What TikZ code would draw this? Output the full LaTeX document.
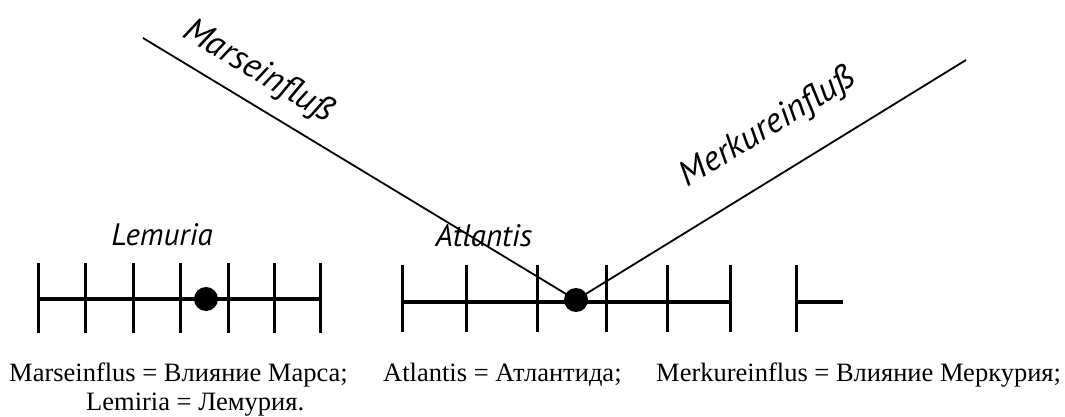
\documentclass[tikz,border=0pt]{standalone}
\usepackage{fontspec}
\setmainfont{Liberation Serif}
\newfontfamily\handfont{PT Sans}
\usetikzlibrary{positioning}

\begin{document}
\begin{tikzpicture}[x=1pt,y=-1pt,
  ax/.style={line width=3.4pt},
  tk/.style={line width=3pt},
  ln/.style={line width=1.8pt},
  pt/.style={circle,fill=black,inner sep=0pt,minimum size=24pt},
  hw/.style={font=\handfont\itshape\fontsize{31}{34}\selectfont,inner sep=0pt},
  cp/.style={font=\fontsize{26.5}{30}\selectfont,inner sep=0pt,anchor=base west}]
  \useasboundingbox (0,0) rectangle (1065,417);
  % Lemuria scale
  \draw[ax] (37,299) -- (320,299);
  \foreach \x in {38,85,133,180,228,274,320} \draw[tk] (\x,263) -- (\x,333);
  \node[pt] (lem) at (206,299) {};
  \node[hw] (lemlab) at (162,235) {Lemuria};
  % Atlantis scale
  \draw[ax] (402,302) -- (730,302);
  \foreach \x in {402,466,537,606,667,730} \draw[tk] (\x,265) -- (\x,332);
  \draw[tk] (796,265) -- (796,332);
  \draw[ax] (796,302) -- (843,302);
  \node[pt] (atl) at (576,300) {};
  \node[hw] (atllab) at (484,236) {Atlantis};
  % influences
  \coordinate (mars) at (143,38);
  \coordinate (merk) at (966,60);
  \draw[ln] (mars) -- (atl.center);
  \draw[ln] (atl.center) -- (merk);
  \node[hw,font=\handfont\itshape\fontsize{35}{38}\selectfont,rotate=-31] (marslab) at (258,72) {Marseinflu\ss};
  \node[hw,font=\handfont\itshape\fontsize{35}{38}\selectfont,rotate=31.5] (merklab) at (768,128) {Merkureinflu\ss};
  % legend
  \node[cp] (c1) at (9,381) {Marseinflus = Влияние Марса;};
  \node[cp] (c2) at (383,381) {Atlantis = Атлантида;};
  \node[cp] (c3) at (656,381) {Merkureinflus = Влияние Меркурия;};
  \node[cp] (c4) at (86,410) {Lemiria = Лемурия.};
\end{tikzpicture}
\end{document}
